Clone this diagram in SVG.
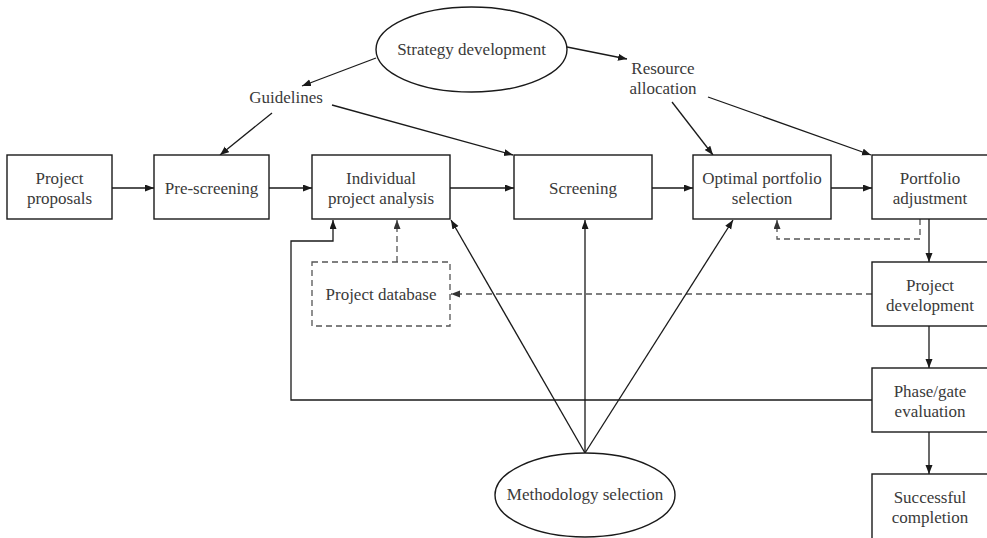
<svg xmlns="http://www.w3.org/2000/svg" width="987" height="538" viewBox="0 0 987 538">
<style>
.box{fill:#fff;stroke:#1a1a1a;stroke-width:1.4}
.dbox{fill:#fff;stroke:#555;stroke-width:1.3;stroke-dasharray:6,4}
.t{font-family:"Liberation Serif","Times New Roman",serif;font-size:17px;fill:#3a3a3a;text-anchor:middle}
.c{fill:none;stroke:#1a1a1a;stroke-width:1.3}
.d{fill:none;stroke:#555;stroke-width:1.3;stroke-dasharray:6,4}
.a{marker-end:url(#ah)}
.ad{marker-end:url(#ahd)}
</style>
<defs>
<marker id="ah" markerUnits="userSpaceOnUse" markerWidth="10" markerHeight="8" refX="9" refY="3.5" orient="auto"><path d="M0,0 L9,3.5 L0,7 z" fill="#1a1a1a"/></marker>
<marker id="ahd" markerUnits="userSpaceOnUse" markerWidth="10" markerHeight="8" refX="9" refY="3.5" orient="auto"><path d="M0,0 L9,3.5 L0,7 z" fill="#333"/></marker>
</defs>
<rect width="987" height="538" fill="#fff"/>
<g id="connectors">
<line class="c a" x1="376" y1="58" x2="302" y2="86"/>
<line class="c a" x1="272" y1="113" x2="220" y2="155"/>
<line class="c a" x1="332" y1="105" x2="513" y2="155"/>
<line class="c a" x1="567" y1="47" x2="627" y2="59"/>
<line class="c a" x1="672" y1="102" x2="713" y2="155"/>
<line class="c a" x1="708" y1="97" x2="871" y2="155"/>
<line class="c a" x1="112" y1="188" x2="154" y2="188"/>
<line class="c a" x1="269" y1="188" x2="312" y2="188"/>
<line class="c a" x1="450" y1="188" x2="514" y2="188"/>
<line class="c a" x1="652" y1="188" x2="693" y2="188"/>
<line class="c a" x1="831" y1="188" x2="872" y2="188"/>
<line class="c a" x1="929" y1="219" x2="929" y2="262"/>
<line class="c a" x1="929" y1="326" x2="929" y2="368"/>
<line class="c a" x1="929" y1="432" x2="929" y2="474"/>
<path class="d ad" d="M920,219 V239 H777 V220"/>
<path class="d ad" d="M872,294 H451"/>
<path class="d ad" d="M397,262 V220"/>
<path class="c a" d="M872,400 H291 V241 H333 V220"/>
<line class="c a" x1="585" y1="453" x2="451" y2="220"/>
<line class="c a" x1="585" y1="453" x2="585" y2="220"/>
<line class="c a" x1="585" y1="453" x2="733" y2="220"/>
</g>
<g id="strategy"><ellipse class="box" cx="471.5" cy="49.5" rx="95.5" ry="42.5"/><text class="t" x="471.5" y="55">Strategy development</text></g>
<g id="guidelines"><text class="t" x="286" y="103">Guidelines</text></g>
<g id="resource"><text class="t" x="663" y="74">Resource</text><text class="t" x="663" y="94">allocation</text></g>
<g id="proposals"><rect class="box" x="7" y="155" width="105" height="64"/><text class="t" x="59.5" y="183.5">Project</text><text class="t" x="59.5" y="203.5">proposals</text></g>
<g id="prescreening"><rect class="box" x="154" y="155" width="115" height="64"/><text class="t" x="211.5" y="193.5">Pre-screening</text></g>
<g id="individual"><rect class="box" x="312" y="155" width="138" height="64"/><text class="t" x="381" y="183.5">Individual</text><text class="t" x="381" y="203.5">project analysis</text></g>
<g id="screening"><rect class="box" x="514" y="155" width="138" height="64"/><text class="t" x="583" y="193.5">Screening</text></g>
<g id="optimal"><rect class="box" x="693" y="155" width="138" height="64"/><text class="t" x="762" y="183.5">Optimal portfolio</text><text class="t" x="762" y="203.5">selection</text></g>
<g id="adjustment"><rect class="box" x="872" y="155" width="118" height="64"/><text class="t" x="930" y="183.5">Portfolio</text><text class="t" x="930" y="203.5">adjustment</text></g>
<g id="database"><rect class="dbox" x="312" y="262" width="138" height="64"/><text class="t" x="381" y="299.5">Project database</text></g>
<g id="development"><rect class="box" x="872" y="262" width="118" height="64"/><text class="t" x="930" y="290.5">Project</text><text class="t" x="930" y="310.5">development</text></g>
<g id="phasegate"><rect class="box" x="872" y="368" width="118" height="64"/><text class="t" x="930" y="396.5">Phase/gate</text><text class="t" x="930" y="416.5">evaluation</text></g>
<g id="successful"><rect class="box" x="872" y="474" width="118" height="70"/><text class="t" x="930" y="502.5">Successful</text><text class="t" x="930" y="522.5">completion</text></g>
<g id="methodology"><ellipse class="box" cx="585" cy="495" rx="90" ry="42"/><text class="t" x="585" y="500">Methodology selection</text></g>
</svg>
